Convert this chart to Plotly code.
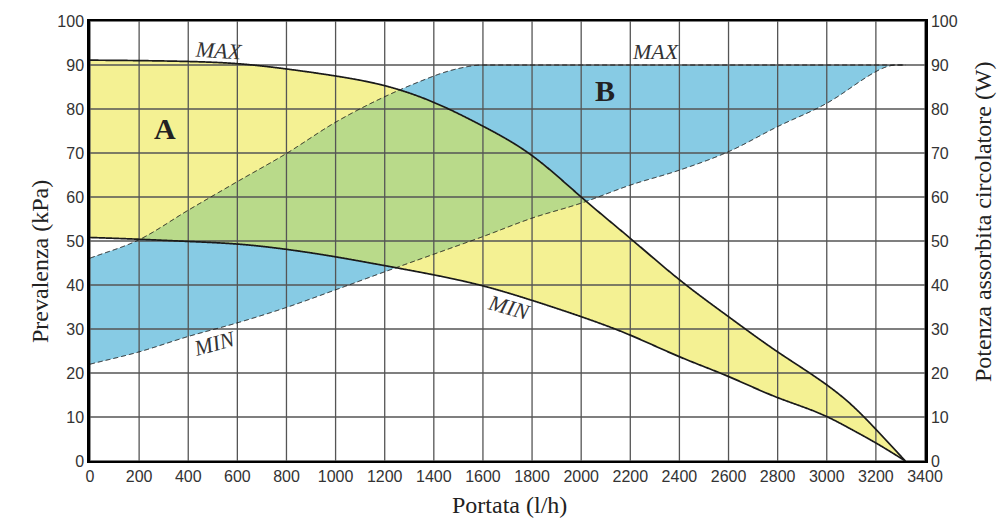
import numpy as np
import plotly.graph_objects as go

# ---------------- data ----------------
x_head = [0, 200, 400, 600, 800, 1000, 1200, 1400, 1600, 1800, 2000, 2200, 2400, 2600, 2800, 3000, 3100, 3200, 3320]
head_max = [91.1, 91.0, 90.8, 90.3, 89.1, 87.5, 85.3, 81.5, 76.1, 69.4, 60.0, 50.6, 41.2, 32.8, 24.8, 17.3, 12.8, 7.2, 0.0]
head_min = [50.8, 50.4, 49.9, 49.3, 48.1, 46.4, 44.4, 42.3, 39.8, 36.5, 32.8, 28.6, 23.7, 19.2, 14.4, 10.1, 7.2, 4.1, 0.0]

x_pow = [0, 200, 400, 600, 800, 1000, 1200, 1400, 1500, 1600, 1800, 2000, 2200, 2400, 2600, 2800, 3000, 3200, 3285, 3320]
pow_max = [46.1, 50.3, 57.0, 63.5, 69.9, 77.0, 82.8, 87.5, 89.2, 90.0, 90.0, 90.0, 90.0, 90.0, 90.0, 90.0, 90.0, 90.0, 90.0, 90.0]
pow_min = [22.0, 24.8, 28.3, 31.4, 34.9, 38.9, 43.0, 47.0, 49.0, 51.0, 55.2, 58.6, 62.7, 66.1, 70.3, 76.0, 81.3, 88.5, 90.0, 90.0]

x_ticks = list(range(0, 3401, 200))
y_ticks = list(range(0, 101, 10))

YELLOW = "#F4F193"
BLUE = "#87CBE4"
GREEN = "#B9DA8A"
GRID = "#555555"


def hermite(x, y, xs):
    """smooth cubic Hermite curve through the read points (centred tangents, no overshoot)"""
    x = np.asarray(x, float)
    y = np.asarray(y, float)
    h = np.diff(x)
    d = np.diff(y) / h
    m = np.zeros_like(y)
    m[0], m[-1] = d[0], d[-1]
    for k in range(1, len(x) - 1):
        if d[k - 1] * d[k] <= 0:
            m[k] = 0.0
        else:
            m[k] = (y[k + 1] - y[k - 1]) / (x[k + 1] - x[k - 1])
    for k in range(len(d)):
        if d[k] == 0:
            m[k] = m[k + 1] = 0.0
            continue
        a, b = m[k] / d[k], m[k + 1] / d[k]
        s = a * a + b * b
        if s > 9:
            t = 3 / np.sqrt(s)
            m[k], m[k + 1] = t * a * d[k], t * b * d[k]
    idx = np.clip(np.searchsorted(x, xs, side="right") - 1, 0, len(x) - 2)
    t = (xs - x[idx]) / h[idx]
    h00 = 2 * t**3 - 3 * t**2 + 1
    h10 = t**3 - 2 * t**2 + t
    h01 = -2 * t**3 + 3 * t**2
    h11 = t**3 - t**2
    return h00 * y[idx] + h10 * h[idx] * m[idx] + h01 * y[idx + 1] + h11 * h[idx] * m[idx + 1]


def natural(x, y, xs):
    """natural cubic spline through the read points"""
    x = np.asarray(x, float)
    y = np.asarray(y, float)
    n = len(x)
    h = np.diff(x)
    A = np.zeros((n, n))
    r = np.zeros(n)
    A[0, 0] = A[-1, -1] = 1.0
    for i in range(1, n - 1):
        A[i, i - 1] = h[i - 1]
        A[i, i] = 2 * (h[i - 1] + h[i])
        A[i, i + 1] = h[i]
        r[i] = 6 * ((y[i + 1] - y[i]) / h[i] - (y[i] - y[i - 1]) / h[i - 1])
    M = np.linalg.solve(A, r)
    idx = np.clip(np.searchsorted(x, xs, side="right") - 1, 0, n - 2)
    hi = h[idx]
    a = x[idx + 1] - xs
    b = xs - x[idx]
    return (M[idx] * a**3 / (6 * hi) + M[idx + 1] * b**3 / (6 * hi)
            + (y[idx] / hi - M[idx] * hi / 6) * a + (y[idx + 1] / hi - M[idx + 1] * hi / 6) * b)


xs = np.linspace(0, max(x_head[-1], x_pow[-1]), 1400)
hmax = natural(x_head, head_max, xs)
hmin = natural(x_head, head_min, xs)
pmax = hermite(x_pow, pow_max, xs)
pmin = hermite(x_pow, pow_min, xs)

fig = go.Figure()

# blue band (power)
fig.add_trace(go.Scatter(x=np.concatenate([xs, xs[::-1]]), y=np.concatenate([pmax, pmin[::-1]]),
                         fill="toself", fillcolor=BLUE, line=dict(width=0, simplify=False), mode="lines",
                         hoverinfo="skip", showlegend=False))
# yellow band (head)
fig.add_trace(go.Scatter(x=np.concatenate([xs, xs[::-1]]), y=np.concatenate([hmax, hmin[::-1]]),
                         fill="toself", fillcolor=YELLOW, line=dict(width=0, simplify=False), mode="lines",
                         hoverinfo="skip", showlegend=False))
# green overlap
lo = np.maximum(hmin, pmin)
up = np.minimum(hmax, pmax)
mask = up > lo
gx = xs[mask]
fig.add_trace(go.Scatter(x=np.concatenate([gx, gx[::-1]]), y=np.concatenate([up[mask], lo[mask][::-1]]),
                         fill="toself", fillcolor=GREEN, line=dict(width=0, simplify=False), mode="lines",
                         hoverinfo="skip", showlegend=False))

# grid (drawn above fills)
gxs, gys = [], []
for v in x_ticks:
    gxs += [v, v, None]
    gys += [y_ticks[0], y_ticks[-1], None]
for v in y_ticks:
    gxs += [x_ticks[0], x_ticks[-1], None]
    gys += [v, v, None]
fig.add_trace(go.Scatter(x=gxs, y=gys, mode="lines", line=dict(color=GRID, width=1.3),
                         hoverinfo="skip", showlegend=False))

# curves
for yy in (hmax, hmin):
    fig.add_trace(go.Scatter(x=xs, y=yy, mode="lines",
                             line=dict(color="#1a1a1a", width=1.7, simplify=False),
                             hoverinfo="skip", showlegend=False))
for yy in (pmax, pmin):
    fig.add_trace(go.Scatter(x=xs, y=yy, mode="lines",
                             line=dict(color="#1a1a1a", width=1, dash="5px,3px", simplify=False),
                             hoverinfo="skip", showlegend=False))

# dummy trace for right axis
fig.add_trace(go.Scatter(x=[None], y=[None], yaxis="y2", showlegend=False, hoverinfo="skip"))

tickfont = dict(family="Liberation Sans, Arial, sans-serif", size=16, color="#333333")
serif = "Liberation Serif, Times New Roman, serif"

fig.update_layout(
    width=1008, height=530,
    margin=dict(l=82, r=91, t=13, b=77, autoexpand=False),
    paper_bgcolor="white", plot_bgcolor="white",
    showlegend=False,
    xaxis=dict(range=[0, 3400], tickvals=x_ticks, showgrid=False, zeroline=False,
               showline=True, linecolor="black", linewidth=2, mirror=True, ticks="",
               tickfont=tickfont, layer="above traces"),
    yaxis=dict(range=[0, 100], tickvals=y_ticks, showgrid=False, zeroline=False,
               showline=True, linecolor="black", linewidth=2.5, ticks="",
               tickfont=tickfont, layer="above traces"),
    yaxis2=dict(range=[0, 100], tickvals=y_ticks, overlaying="y", side="right",
                showgrid=False, zeroline=False, showline=True, linecolor="black",
                linewidth=2.5, ticks="", tickfont=tickfont, layer="above traces"),
)

ann = []
ann.append(dict(text="Prevalenza (kPa)", xref="paper", yref="paper", x=(25 - 90) / 835, y=(461 - 262) / 440,
                textangle=-90, showarrow=False, font=dict(family=serif, size=24, color="#222")))
ann.append(dict(text="Potenza assorbita circolatore (W)", xref="paper", yref="paper",
                x=(998 - 90) / 835, y=(461 - 222) / 440,
                textangle=-90, showarrow=False, font=dict(family=serif, size=24, color="#222")))
ann.append(dict(text="Portata (l/h)", xref="paper", yref="paper", x=(509 - 90) / 835, y=(461 - 520) / 440,
                showarrow=False, font=dict(family=serif, size=24, color="#222")))
ann.append(dict(text="<b>A</b>", x=305, y=75.5, showarrow=False, font=dict(family=serif, size=30, color="#222")))
ann.append(dict(text="<b>B</b>", x=2097, y=84.3, showarrow=False, font=dict(family=serif, size=30, color="#222")))
ann.append(dict(text="<i>MAX</i>", x=525, y=93.2, textangle=4, showarrow=False,
                font=dict(family=serif, size=22, color="#333")))
ann.append(dict(text="<i>MAX</i>", x=2305, y=93.1, showarrow=False,
                font=dict(family=serif, size=22, color="#333")))
ann.append(dict(text="<i>MIN</i>", x=505, y=26.8, textangle=-15, showarrow=False,
                font=dict(family=serif, size=22, color="#333")))
ann.append(dict(text="<i>MIN</i>", x=1710, y=35.0, textangle=16, showarrow=False,
                font=dict(family=serif, size=22, color="#333")))
fig.update_layout(annotations=ann)

fig.write_html("out.html")
